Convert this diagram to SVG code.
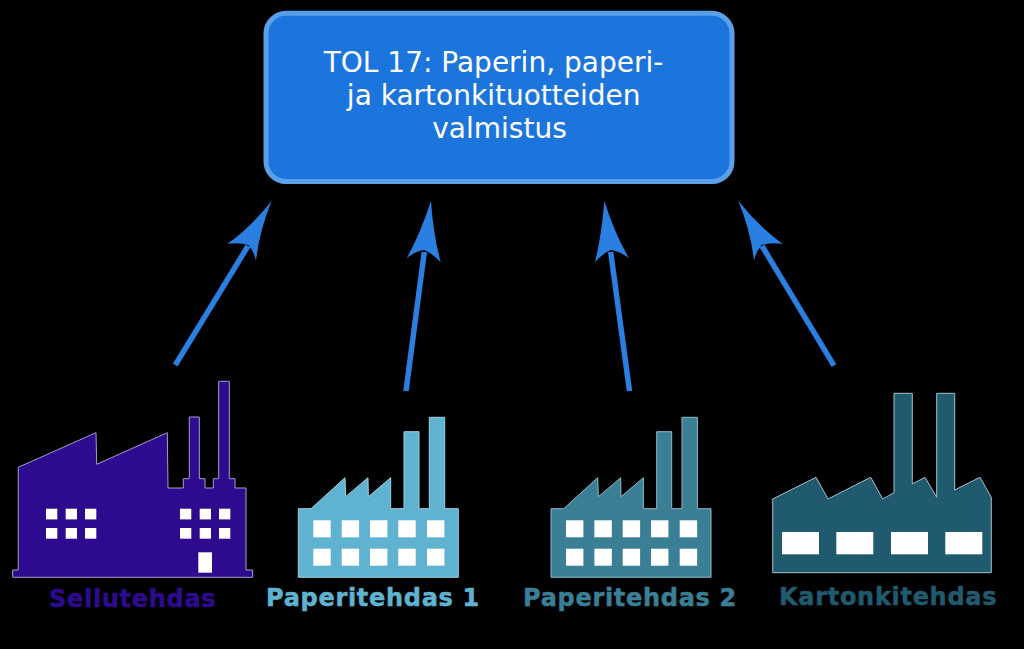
<svg xmlns="http://www.w3.org/2000/svg" width="1024" height="649" viewBox="0 0 1024 649">
<style>
.win{fill:#fff}
.lbl{font-family:"DejaVu Sans",Verdana,sans-serif;font-weight:700;font-size:24px;letter-spacing:.7px;stroke-width:.5px}
.title{font-family:"DejaVu Sans",Verdana,sans-serif;font-size:28px;fill:#fff;text-anchor:middle}
.shaft{stroke:#2a7fe0;stroke-width:5.500;fill:none}
.head{fill:#2a7fe0}
</style>
<rect width="1024" height="649" fill="#000"/>
<g id="connectors">
<path class="shaft" d="M175.300 365L248 246"/><path class="head" d="M271.700 200.700Q259 232 256 261Q254 251 248.300 245Q239 242 227.300 244Q252 226 271.700 200.700Z"/>
<path class="shaft" d="M406 391L424.300 252"/><path class="head" d="M431 200.700Q433 233 440.700 262.300Q433 254 424.300 250Q415 251 406.700 258.300Q421 232 431 200.700Z"/>
<path class="shaft" d="M629.500 391L610.700 252"/><path class="head" d="M604.300 200.700Q602 233 595 262.300Q602 254 610.700 250Q620 251 629 258.300Q614 232 604.300 200.700Z"/>
<path class="shaft" d="M834 365.700L762 246"/><path class="head" d="M738.300 200.700Q751 232 754 261Q756 251 761.700 245Q771 242 782.700 244Q758 226 738.300 200.700Z"/>
</g>
<g id="tol17">
<rect x="266" y="13.300" width="466" height="168.200" rx="20" fill="#1c75dc" stroke="#5a9fe8" stroke-width="5"/>
<text class="title" x="493.500" y="72">TOL 17: Paperin, paperi-</text>
<text class="title" x="493.700" y="105">ja kartonkituotteiden</text>
<text class="title" x="499.500" y="138">valmistus</text>
</g>
<g id="sellutehdas">
<path fill="#2e0a8f" stroke="#a99bd0" stroke-width="1" d="M12.700 577.300V570H18.300V467.300L96 432.700L96.700 464.300L167.300 432.700L168 488H183.300V478.700H189.300V417H199.300V478.700H205V488H213.300V478.700H218.700V381.300H229.300V478.700H235V488H246V570H252.700V577.300Z"/>
<g class="win">
<rect x="46" y="508.700" width="11.300" height="10.700"/><rect x="65.700" y="508.700" width="11.300" height="10.700"/><rect x="85" y="508.700" width="11.300" height="10.700"/>
<rect x="46" y="528" width="11.300" height="10.700"/><rect x="65.700" y="528" width="11.300" height="10.700"/><rect x="85" y="528" width="11.300" height="10.700"/>
<rect x="180" y="508.700" width="11.300" height="10.700"/><rect x="199.700" y="508.700" width="11.300" height="10.700"/><rect x="219" y="508.700" width="11.300" height="10.700"/>
<rect x="180" y="528" width="11.300" height="10.700"/><rect x="199.700" y="528" width="11.300" height="10.700"/><rect x="219" y="528" width="11.300" height="10.700"/>
<rect x="198.300" y="552.300" width="13.700" height="20.400"/>
</g>
<text class="lbl" x="49" y="606.500" fill="#2e0a8f" stroke="#2e0a8f">Sellutehdas</text>
</g>
<g id="paperitehdas1">
<path fill="#5fb3d0" stroke="#9fd0e0" stroke-width="1" d="M298.300 577.300V508.700H311L345 477.700L345.700 496.700L368 477.700L368.300 496.700L390.700 477.700V508.700H404V431.700H419V508.700H429.300V417.300H444.700V508.700H458.300V577.300Z"/>
<g class="win">
<rect x="313.300" y="520.300" width="17.400" height="17"/><rect x="341.700" y="520.300" width="17.400" height="17"/><rect x="370" y="520.300" width="17.400" height="17"/><rect x="398.300" y="520.300" width="17.400" height="17"/><rect x="427" y="520.300" width="17.400" height="17"/>
<rect x="313.300" y="548.700" width="17.400" height="17"/><rect x="341.700" y="548.700" width="17.400" height="17"/><rect x="370" y="548.700" width="17.400" height="17"/><rect x="398.300" y="548.700" width="17.400" height="17"/><rect x="427" y="548.700" width="17.400" height="17"/>
</g>
<text class="lbl" x="266" y="605.500" fill="#5fb3d0" stroke="#5fb3d0">Paperitehdas 1</text>
</g>
<g id="paperitehdas2">
<path fill="#3a7f96" stroke="#8fb8c6" stroke-width="1" d="M551 577.300V508.700H563.700L597.700 477.700L598.400 496.700L620.700 477.700L621 496.700L643.400 477.700V508.700H656.700V431.700H671.700V508.700H682V417.300H697.400V508.700H711V577.300Z"/>
<g class="win">
<rect x="566" y="520.300" width="17.400" height="17"/><rect x="594.400" y="520.300" width="17.400" height="17"/><rect x="622.700" y="520.300" width="17.400" height="17"/><rect x="651" y="520.300" width="17.400" height="17"/><rect x="679.700" y="520.300" width="17.400" height="17"/>
<rect x="566" y="548.700" width="17.400" height="17"/><rect x="594.400" y="548.700" width="17.400" height="17"/><rect x="622.700" y="548.700" width="17.400" height="17"/><rect x="651" y="548.700" width="17.400" height="17"/><rect x="679.700" y="548.700" width="17.400" height="17"/>
</g>
<text class="lbl" x="523" y="605.500" fill="#3a7f96" stroke="#3a7f96">Paperitehdas 2</text>
</g>
<g id="kartonkitehdas">
<path fill="#1f5a6e" stroke="#a5c0c9" stroke-width="1" d="M772.700 572.700V499L816 477.300L828 499L870.700 477.300L882.700 499L894 492.700V393.300H912.300V484L925 477.300L936.700 497.300V393.300H954.700V490L980 477.300L991.300 497.300V572.700Z"/>
<g class="win">
<rect x="782" y="532" width="37" height="22.300"/><rect x="836.300" y="532" width="37" height="22.300"/><rect x="891" y="532" width="37" height="22.300"/><rect x="945.300" y="532" width="37" height="22.300"/>
</g>
<text class="lbl" x="779" y="605" fill="#1f5a6e" stroke="#1f5a6e">Kartonkitehdas</text>
</g>
</svg>
